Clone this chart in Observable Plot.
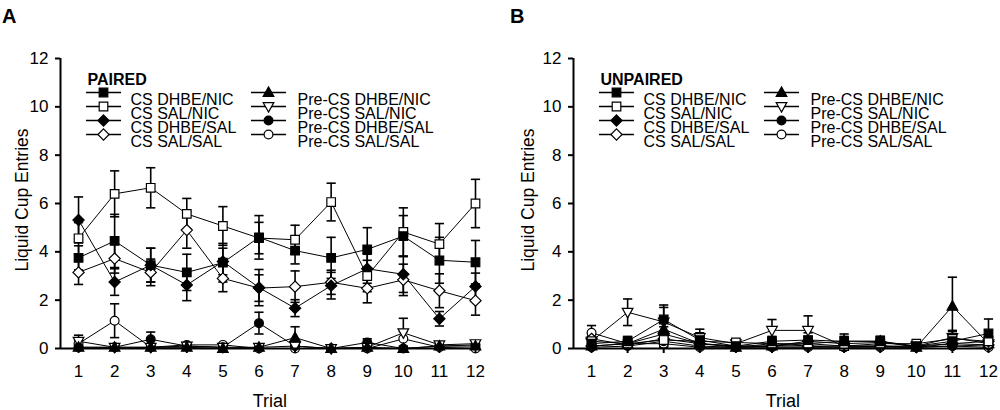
<!DOCTYPE html>
<html>
<head>
<meta charset="utf-8">
<script src="https://cdn.jsdelivr.net/npm/d3@7"></script>
<script src="https://cdn.jsdelivr.net/npm/@observablehq/plot@0.6"></script>
<style>
  html, body { margin: 0; padding: 0; background: white; }
  #wrap { position: relative; width: 1000px; height: 410px; overflow: hidden; font-family: "Liberation Sans", Arial, sans-serif; }
  .panel { position: absolute; top: 0; }
  .letter { position: absolute; font-weight: bold; font-size: 20px; line-height: 20px; color: black; }
  .ylab { position: absolute; width: 220px; height: 20px; line-height: 20px; font-size: 17.5px; text-align: center; color: black; transform: rotate(-90deg); transform-origin: 50% 50%; white-space: nowrap; }
</style>
</head>
<body>
<div id="wrap">
  <div class="letter" style="left:2px;top:6px">A</div>
  <div class="letter" style="left:510px;top:6px">B</div>
  <div class="ylab" id="ylabA" style="left:-88px;top:190px"></div>
  <div class="ylab" id="ylabB" style="left:418px;top:190px"></div>
</div>
<script>
// ---------- data ----------
const trials = [1, 2, 3, 4, 5, 6, 7, 8, 9, 10, 11, 12];
const yTicks = [0, 2, 4, 6, 8, 10, 12];
const seriesNames = ["CS DHBE/NIC", "CS SAL/NIC", "CS DHBE/SAL", "CS SAL/SAL",
                     "Pre-CS DHBE/NIC", "Pre-CS SAL/NIC", "Pre-CS DHBE/SAL", "Pre-CS SAL/SAL"];
const panelTitles = ["PAIRED", "UNPAIRED"];
const xLabel = "Trial";
const yLabel = "Liquid Cup Entries";

// Panel A (PAIRED) means
const pairedCsDhbeNic  = [3.75, 4.45, 3.45, 3.15, 3.55, 4.60, 4.05, 3.75, 4.10, 4.65, 3.65, 3.57];
const pairedCsSalNic   = [4.56, 6.40, 6.65, 5.57, 5.07, 4.57, 4.50, 6.06, 3.00, 4.82, 4.32, 6.00];
const pairedCsDhbeSal  = [5.32, 2.75, 3.45, 2.63, 3.60, 2.52, 1.67, 2.60, 3.30, 3.07, 1.23, 2.57];
const pairedCsSalSal   = [3.15, 3.72, 3.15, 4.90, 2.90, 2.50, 2.56, 2.74, 2.49, 2.84, 2.39, 1.98];
const pairedPreDhbeNic = [0.05, 0.05, 0.05, 0.05, 0.00, 0.05, 0.45, 0.00, 0.05, 0.00, 0.10, 0.10];
const pairedPreSalNic  = [0.30, 0.05, 0.05, 0.10, 0.05, 0.05, 0.10, 0.00, 0.05, 0.65, 0.15, 0.20];
const pairedPreDhbeSal = [0.05, 0.05, 0.38, 0.10, 0.05, 1.05, 0.10, 0.00, 0.25, 0.00, 0.10, 0.15];
const pairedPreSalSal  = [0.20, 1.15, 0.05, 0.15, 0.15, 0.00, 0.00, 0.00, 0.00, 0.40, 0.05, 0.00];
// Panel A SEMs
const pairedSemCsDhbeNic  = [0.50, 1.10, 0.70, 0.75, 0.80, 0.90, 0.55, 0.85, 0.90, 0.85, 0.95, 0.90];
const pairedSemCsSalNic   = [0.65, 0.95, 0.83, 0.64, 0.80, 0.65, 0.60, 0.78, 0.65, 1.00, 0.85, 1.00];
const pairedSemCsDhbeSal  = [0.95, 0.55, 0.70, 0.65, 0.55, 0.75, 0.35, 0.55, 0.60, 0.75, 0.30, 0.55];
const pairedSemCsSalSal   = [0.50, 0.60, 0.55, 0.75, 0.55, 0.55, 0.65, 0.50, 0.60, 0.65, 0.70, 0.60];
const pairedSemPreDhbeNic = [0.05, 0.05, 0.05, 0.05, 0.00, 0.05, 0.45, 0.00, 0.05, 0.00, 0.05, 0.05];
const pairedSemPreSalNic  = [0.25, 0.05, 0.05, 0.05, 0.05, 0.05, 0.10, 0.00, 0.05, 0.60, 0.10, 0.10];
const pairedSemPreDhbeSal = [0.05, 0.05, 0.30, 0.05, 0.05, 0.45, 0.05, 0.00, 0.15, 0.00, 0.05, 0.10];
const pairedSemPreSalSal  = [0.15, 0.70, 0.05, 0.05, 0.05, 0.00, 0.00, 0.00, 0.00, 0.30, 0.05, 0.00];

// Panel B (UNPAIRED) means
const unpairedCsDhbeNic  = [0.20, 0.30, 1.20, 0.35, 0.10, 0.30, 0.35, 0.30, 0.30, 0.10, 0.30, 0.62];
const unpairedCsSalNic   = [0.30, 0.20, 0.35, 0.30, 0.25, 0.20, 0.20, 0.10, 0.20, 0.20, 0.40, 0.30];
const unpairedCsDhbeSal  = [0.10, 0.20, 0.60, 0.20, 0.10, 0.10, 0.30, 0.20, 0.25, 0.10, 0.20, 0.30];
const unpairedCsSalSal   = [0.40, 0.15, 0.40, 0.20, 0.10, 0.10, 0.10, 0.10, 0.10, 0.05, 0.20, 0.15];
const unpairedPreDhbeNic = [0.10, 0.20, 0.80, 0.20, 0.05, 0.10, 0.20, 0.30, 0.30, 0.05, 1.75, 0.20];
const unpairedPreSalNic  = [0.30, 1.50, 1.10, 0.45, 0.20, 0.75, 0.75, 0.10, 0.10, 0.10, 0.45, 0.20];
const unpairedPreDhbeSal = [0.05, 0.10, 0.30, 0.10, 0.05, 0.20, 0.10, 0.05, 0.10, 0.05, 0.10, 0.15];
const unpairedPreSalSal  = [0.65, 0.20, 0.20, 0.05, 0.05, 0.05, 0.05, 0.05, 0.05, 0.05, 0.10, 0.05];
// Panel B SEMs
const unpairedSemCsDhbeNic  = [0.20, 0.20, 0.60, 0.30, 0.10, 0.20, 0.30, 0.30, 0.20, 0.10, 0.20, 0.60];
const unpairedSemCsSalNic   = [0.20, 0.10, 0.30, 0.20, 0.10, 0.10, 0.10, 0.10, 0.10, 0.10, 0.30, 0.20];
const unpairedSemCsDhbeSal  = [0.10, 0.10, 0.30, 0.10, 0.05, 0.10, 0.20, 0.10, 0.15, 0.05, 0.10, 0.20];
const unpairedSemCsSalSal   = [0.20, 0.10, 0.20, 0.10, 0.05, 0.05, 0.05, 0.05, 0.05, 0.05, 0.10, 0.10];
const unpairedSemPreDhbeNic = [0.10, 0.10, 0.40, 0.10, 0.05, 0.10, 0.10, 0.20, 0.20, 0.05, 1.20, 0.10];
const unpairedSemPreSalNic  = [0.20, 0.55, 0.60, 0.35, 0.10, 0.45, 0.60, 0.10, 0.10, 0.05, 0.30, 0.10];
const unpairedSemPreDhbeSal = [0.05, 0.05, 0.20, 0.05, 0.05, 0.10, 0.05, 0.05, 0.05, 0.05, 0.05, 0.10];
const unpairedSemPreSalSal  = [0.30, 0.10, 0.10, 0.05, 0.05, 0.05, 0.05, 0.05, 0.05, 0.05, 0.05, 0.05];

const pairedMeans = [pairedCsDhbeNic, pairedCsSalNic, pairedCsDhbeSal, pairedCsSalSal,
                     pairedPreDhbeNic, pairedPreSalNic, pairedPreDhbeSal, pairedPreSalSal];
const pairedSems = [pairedSemCsDhbeNic, pairedSemCsSalNic, pairedSemCsDhbeSal, pairedSemCsSalSal,
                    pairedSemPreDhbeNic, pairedSemPreSalNic, pairedSemPreDhbeSal, pairedSemPreSalSal];
const unpairedMeans = [unpairedCsDhbeNic, unpairedCsSalNic, unpairedCsDhbeSal, unpairedCsSalSal,
                       unpairedPreDhbeNic, unpairedPreSalNic, unpairedPreDhbeSal, unpairedPreSalSal];
const unpairedSems = [unpairedSemCsDhbeNic, unpairedSemCsSalNic, unpairedSemCsDhbeSal, unpairedSemCsSalSal,
                      unpairedSemPreDhbeNic, unpairedSemPreSalNic, unpairedSemPreDhbeSal, unpairedSemPreSalSal];

// ---------- symbols ----------
function sym(fn) { return { draw(ctx, size) { const r = Math.sqrt(size / Math.PI); fn(ctx, r); } }; }
const SHAPES = {
  square: sym((c, r) => { c.moveTo(-r, -r); c.lineTo(r, -r); c.lineTo(r, r); c.lineTo(-r, r); c.closePath(); }),
  diamond: sym((c, r) => { c.moveTo(0, -r); c.lineTo(r, 0); c.lineTo(0, r); c.lineTo(-r, 0); c.closePath(); }),
  triUp: sym((c, r) => { c.moveTo(0, -r); c.lineTo(r * 0.95, r * 0.7); c.lineTo(-r * 0.95, r * 0.7); c.closePath(); }),
  triDown: sym((c, r) => { c.moveTo(0, r); c.lineTo(r * 0.95, -r * 0.7); c.lineTo(-r * 0.95, -r * 0.7); c.closePath(); }),
  circle: sym((c, r) => { c.moveTo(r, 0); c.arc(0, 0, r, 0, 2 * Math.PI); c.closePath(); }),
  hline: sym((c, r) => { c.moveTo(-r, 0); c.lineTo(r, 0); })
};
const styles = [
  {shape: "square", fill: "black", r: 4.3},
  {shape: "square", fill: "white", r: 4.3},
  {shape: "diamond", fill: "black", r: 5.6},
  {shape: "diamond", fill: "white", r: 5.6},
  {shape: "triUp", fill: "black", r: 5.6},
  {shape: "triDown", fill: "white", r: 5.6},
  {shape: "circle", fill: "black", r: 4.4},
  {shape: "circle", fill: "white", r: 4.4}
];

function makePanel(title, means, sems, width, marginRight) {
  const rows = [];
  seriesNames.forEach((name, i) => {
    trials.forEach((t, j) => rows.push({series: name, idx: i, trial: t, mean: means[i][j], sem: sems[i][j]}));
  });
  const errs = rows.filter(d => d.sem > 0);
  const marks = [];
  // error bars
  marks.push(Plot.ruleX(errs, {x: "trial", y1: d => Math.max(0, d.mean - d.sem), y2: d => d.mean + d.sem, stroke: "black", strokeWidth: 1.6}));
  marks.push(Plot.dot(errs, {x: "trial", y: d => d.mean + d.sem, symbol: SHAPES.hline, r: 4.6, stroke: "black", strokeWidth: 1.6, fill: "none"}));
  marks.push(Plot.dot(errs.filter(d => d.mean - d.sem > 0), {x: "trial", y: d => d.mean - d.sem, symbol: SHAPES.hline, r: 4.6, stroke: "black", strokeWidth: 1.6, fill: "none"}));
  // lines + markers
  for (let i = seriesNames.length - 1; i >= 0; i--) {
    const data = rows.filter(d => d.idx === i);
    marks.push(Plot.line(data, {x: "trial", y: "mean", stroke: "black", strokeWidth: 1}));
  }
  for (let i = seriesNames.length - 1; i >= 0; i--) {
    const data = rows.filter(d => d.idx === i);
    const s = styles[i];
    marks.push(Plot.dot(data, {x: "trial", y: "mean", symbol: SHAPES[s.shape], r: s.r, fill: s.fill, stroke: "black", strokeWidth: 1.2}));
  }
  // axes
  marks.push(Plot.axisY({ticks: yTicks, tickSize: 5, tickPadding: 7, label: null, strokeWidth: 2, fontSize: 17}));
  marks.push(Plot.axisX({ticks: trials, tickSize: 5, tickPadding: 11, label: null, strokeWidth: 2, fontSize: 17}));
  marks.push(Plot.ruleX([0.5], {y1: 0, y2: 12, stroke: "black", strokeWidth: 2}));
  marks.push(Plot.ruleY([0], {x1: 0.5, x2: 12.1, stroke: "black", strokeWidth: 2}));
  marks.push(Plot.text([xLabel], {frameAnchor: "bottom", dy: 46, lineAnchor: "top", fontSize: 18}));
  // legend
  marks.push(Plot.text([title], {frameAnchor: "top-left", dx: 27, dy: 15, textAnchor: "start", fontWeight: "bold", fontSize: 16}));
  seriesNames.forEach((name, i) => {
    const col = i < 4 ? 0 : 1;
    const row = i % 4;
    const cx = col === 0 ? 43 : 208;
    const tx = col === 0 ? 70 : 237;
    const dy = 34 + 14 * row;
    const s = styles[i];
    marks.push(Plot.dot([name], {frameAnchor: "top-left", dx: cx, dy, symbol: SHAPES.hline, r: 17.5, stroke: "black", strokeWidth: 1.5, fill: "none"}));
    marks.push(Plot.dot([name], {frameAnchor: "top-left", dx: cx, dy, symbol: SHAPES[s.shape], r: s.r, fill: s.fill, stroke: "black", strokeWidth: 1.2}));
    marks.push(Plot.text([name], {frameAnchor: "top-left", dx: tx, dy: dy + 1, textAnchor: "start", fontSize: 16}));
  });
  return Plot.plot({
    width, height: 410,
    marginLeft: 60, marginRight, marginTop: 58, marginBottom: 62,
    style: {fontFamily: "'Liberation Sans', Arial, sans-serif", fontSize: "16px", background: "transparent", color: "black"},
    x: {domain: [0.5, 12.1]},
    y: {domain: [0, 12]},
    marks
  });
}

const wrap = document.getElementById("wrap");
document.getElementById("ylabA").textContent = yLabel;
document.getElementById("ylabB").textContent = yLabel;
const pA = makePanel(panelTitles[0], pairedMeans, pairedSems, 513, 34.4);
pA.classList.add("panel"); pA.style.left = "0px";
const pB = makePanel(panelTitles[1], unpairedMeans, unpairedSems, 487, 8.4);
pB.classList.add("panel"); pB.style.left = "513px";
wrap.insertBefore(pA, wrap.firstChild);
wrap.insertBefore(pB, wrap.firstChild);
</script>
</body>
</html>
